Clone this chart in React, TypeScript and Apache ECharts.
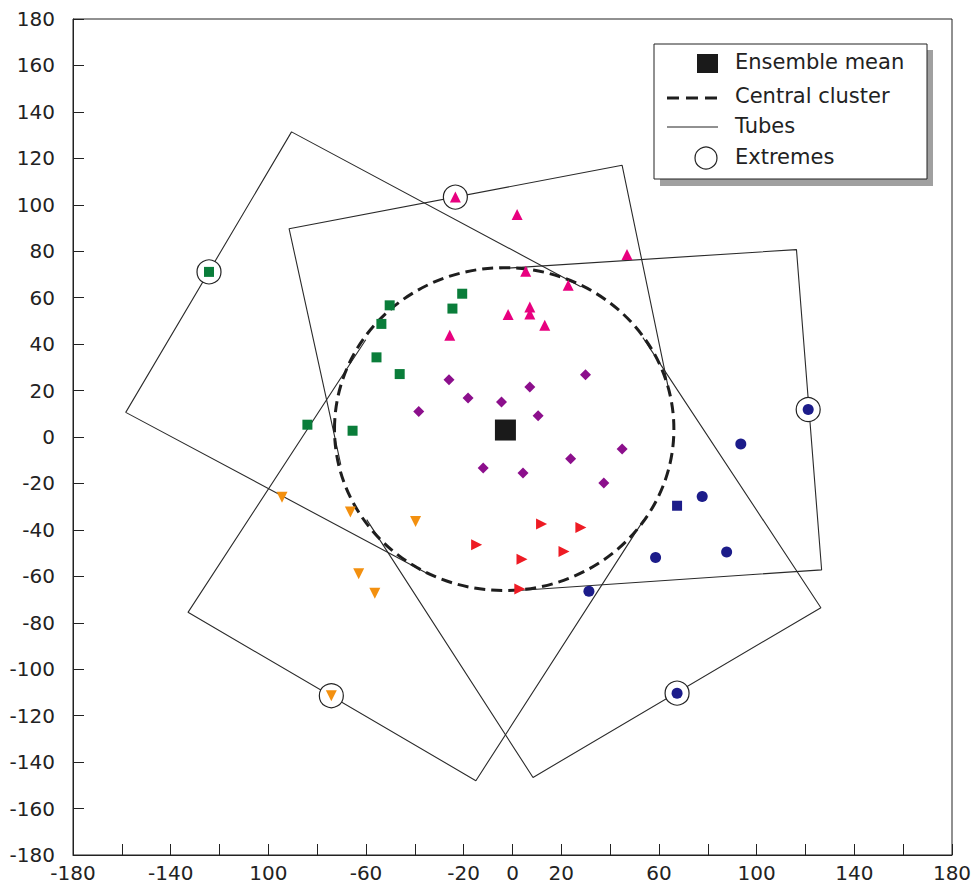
import React, { useEffect, useRef } from "react";
import * as echarts from "echarts";

// Axis labels (bottom axis shows "100" at -100 as in the source)
const xLabelValues = [-180, -140, -100, -60, -20, 0, 20, 60, 100, 140, 180];
const xLabelTexts = ["-180", "-140", "100", "-60", "-20", "0", "20", "60", "100", "140", "180"];

// Tubes: inner tangent point -> outer corner -> outer corner -> inner tangent point
const tubeGreen = [[28.0, 64.7], [-90.5, 131.4], [-158.4, 10.6], [-34.7, -58.9]];
const tubeMagenta = [[-70.3, -12.0], [-91.5, 89.7], [44.9, 117.0], [64.4, 18.2]];
const tubeNavy = [[53.4, 42.8], [126.3, -73.5], [8.4, -146.6], [-59.7, -35.6]];
const tubeBlue = [[-5.2, 72.5], [116.3, 80.7], [126.6, -57.2], [0.9, -66.2]];
const tubeOrange = [[-60.1, 41.9], [-132.9, -75.5], [-15.0, -148.0], [53.8, -35.6]];

// Central cluster: centre x, centre y, radius
const clusterCircle = [-3.4, 3.4, 69.5];

// Ensemble members
const greenSquares = [[-50.3, 56.7], [-53.7, 48.7], [-55.7, 34.3], [-46.2, 27.1], [-65.5, 2.7], [-84.0, 5.3], [-124.3, 71.1], [-20.6, 61.7], [-24.6, 55.3]];
const magentaTriangles = [[-23.4, 103.3], [1.9, 95.8], [46.9, 78.6], [5.4, 71.4], [22.8, 65.3], [7.1, 56.0], [7.1, 53.0], [-1.8, 52.7], [13.2, 48.1], [-25.7, 43.8]];
const purpleDiamonds = [[29.9, 26.8], [-26.0, 24.7], [7.1, 21.5], [-18.2, 16.8], [-4.5, 15.1], [-38.4, 11.0], [10.5, 9.2], [44.9, -5.2], [23.8, -9.4], [-12.0, -13.4], [4.3, -15.5], [37.4, -19.8]];
const redTriangles = [[11.9, -37.5], [28.0, -39.0], [-14.7, -46.4], [3.9, -52.6], [21.1, -49.3], [3.0, -65.5]];
const orangeTriangles = [[-94.4, -25.9], [-66.4, -32.3], [-39.7, -36.4], [-63.0, -58.9], [-56.4, -67.3], [-74.2, -111.4]];
const navyCircles = [[121.1, 11.8], [93.5, -3.0], [77.7, -25.6], [87.7, -49.5], [58.6, -51.9], [31.3, -66.4], [67.4, -110.3]];
const navySquares = [[67.4, -29.6]];
const extremes = [[-124.3, 71.1], [-23.4, 103.3], [121.1, 11.8], [67.4, -110.3], [-74.2, -111.4]];
const ensembleMean = [[-2.9, 3.0]];

const legendNames = ["Ensemble mean", "Central cluster", "Tubes", "Extremes"];

const FONT = "DejaVu Sans";
const INK = "#222222";

export default function App() {
  const ref = useRef<HTMLDivElement>(null);

  useEffect(() => {
    if (!ref.current) return;
    const chart = echarts.init(ref.current, null, { renderer: "svg" });

    const tubeSeries = [tubeGreen, tubeMagenta, tubeNavy, tubeBlue, tubeOrange].map((d) => ({
      type: "line",
      data: d,
      symbol: "none",
      showSymbol: false,
      silent: true,
      z: 2,
      lineStyle: { color: "#2a2a2a", width: 1.1 },
    }));

    const scatter = (data: number[][], symbol: string, size: number, color: string, rotate = 0) => ({
      type: "scatter",
      data,
      symbol,
      symbolSize: size,
      symbolRotate: rotate,
      silent: true,
      z: 4,
      itemStyle: { color, opacity: 1 },
    });

    const option: any = {
      animation: false,
      backgroundColor: "#ffffff",
      grid: {
        left: 73,
        right: 23,
        top: 19,
        bottom: 33,
        show: true,
        borderColor: INK,
        borderWidth: 1,
        backgroundColor: "transparent",
      },
      xAxis: {
        type: "value",
        min: -180,
        max: 180,
        interval: 20,
        splitLine: { show: false },
        axisLine: { onZero: false, lineStyle: { color: INK, width: 1 } },
        axisTick: { inside: true, length: 11, lineStyle: { color: INK } },
        axisLabel: {
          color: INK,
          fontFamily: FONT,
          fontSize: 20,
          margin: 8,
          showMinLabel: true,
          showMaxLabel: true,
          formatter: (v: number) => {
            const i = xLabelValues.indexOf(Math.round(v));
            return i >= 0 ? xLabelTexts[i] : "";
          },
        },
      },
      yAxis: {
        type: "value",
        min: -180,
        max: 180,
        interval: 20,
        splitLine: { show: false },
        axisLine: { onZero: false, lineStyle: { color: INK, width: 1 } },
        axisTick: { inside: true, length: 11, lineStyle: { color: INK } },
        axisLabel: { color: INK, fontFamily: FONT, fontSize: 20, margin: 18 },
      },
      series: [
        ...tubeSeries,
        {
          type: "custom",
          data: [clusterCircle],
          silent: true,
          z: 3,
          renderItem: (_params: any, api: any) => {
            const c = api.coord([api.value(0), api.value(1)]);
            const s = api.size([api.value(2), api.value(2)]);
            return {
              type: "ellipse",
              shape: { cx: c[0], cy: c[1], rx: s[0], ry: s[1] },
              style: { fill: "none", stroke: "#1e1e1e", lineWidth: 3, lineDash: [11, 6] },
            };
          },
        },
        {
          type: "scatter",
          data: extremes,
          symbol: "circle",
          symbolSize: 24,
          silent: true,
          z: 3,
          itemStyle: { color: "#ffffff", borderColor: INK, borderWidth: 1.2, opacity: 1 },
        },
        scatter(greenSquares, "rect", 10, "#0a7d3a"),
        scatter(magentaTriangles, "triangle", 11, "#e8007f"),
        scatter(purpleDiamonds, "diamond", 11, "#8c0f8c"),
        scatter(redTriangles, "triangle", 11, "#ee1b24", -90),
        scatter(orangeTriangles, "triangle", 11, "#f3900f", 180),
        scatter(navyCircles, "circle", 11, "#1c1c8a"),
        scatter(navySquares, "rect", 10, "#1c1c8a"),
        { ...scatter(ensembleMean, "rect", 21, "#1a1a1a"), z: 5 },
      ],
      graphic: [
        { type: "rect", shape: { x: 660, y: 50, width: 273, height: 136 }, style: { fill: "#a0a0a0" }, z: 100 },
        { type: "rect", shape: { x: 654, y: 44, width: 273, height: 135 }, style: { fill: "#ffffff", stroke: INK, lineWidth: 1 }, z: 101 },
        { type: "rect", shape: { x: 697, y: 54, width: 21, height: 19 }, style: { fill: "#1a1a1a" }, z: 102 },
        { type: "line", shape: { x1: 667, y1: 98, x2: 718, y2: 98 }, style: { stroke: "#1e1e1e", lineWidth: 3, lineDash: [12, 7] }, z: 102 },
        { type: "line", shape: { x1: 667, y1: 127, x2: 718, y2: 127 }, style: { stroke: INK, lineWidth: 1 }, z: 102 },
        { type: "circle", shape: { cx: 706, cy: 158, r: 11 }, style: { fill: "#ffffff", stroke: INK, lineWidth: 1.2 }, z: 102 },
        ...legendNames.map((t, i) => ({
          type: "text",
          x: 735,
          y: [62, 96, 126, 157][i],
          z: 102,
          style: { text: t, fill: INK, font: `21px "${FONT}"`, verticalAlign: "middle", align: "left" },
        })),
      ],
    };

    chart.setOption(option);
    return () => chart.dispose();
  }, []);

  return <div ref={ref} style={{ position: "fixed", left: 0, top: 0, width: 975, height: 888 }} />;
}
